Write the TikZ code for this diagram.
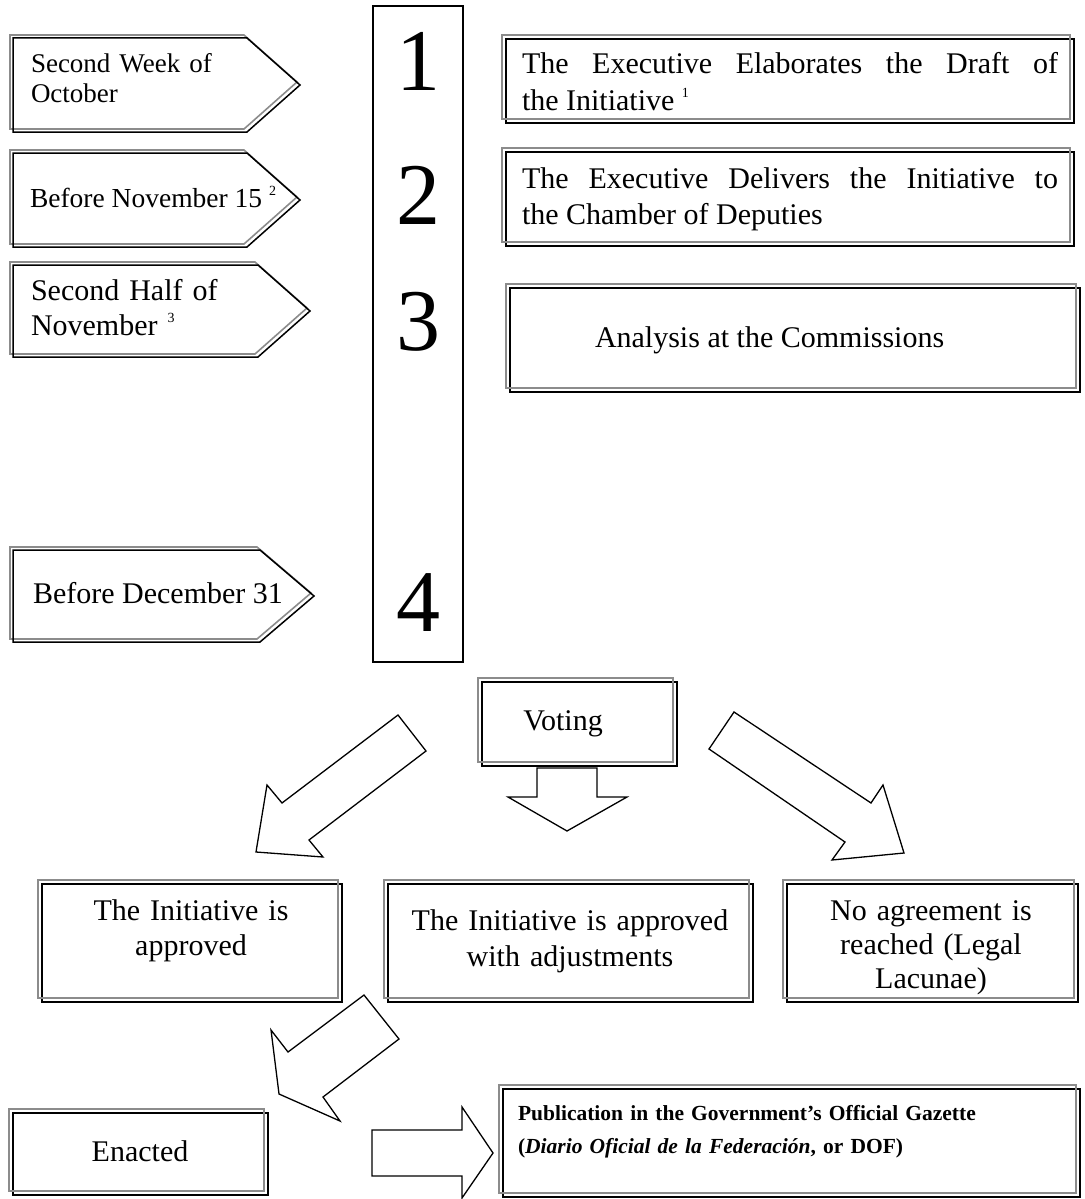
\documentclass[tikz,border=0pt]{standalone}
\usepackage{fontspec}
\setmainfont{Liberation Serif}
\usetikzlibrary{fit}

% text sizes (1pt of the picture = one unit)
\newcommand\bodysize{\fontsize{30}{36}\selectfont}
\newcommand\fnmark[1]{\raisebox{0.42em}{\fontsize{14}{14}\selectfont #1}}

\tikzset{
  box/.style={draw=black, line width=1.6pt, rectangle, inner sep=0pt, outer sep=0pt},
  ghost/.style={draw=black!45, line width=1.6pt},
  flagline/.style={draw=black, line width=1.5pt, line join=miter},
  blockarrow/.style={draw=black, line width=1.3pt, line join=miter},
  column/.style={draw=black, line width=1.3pt},
  txt/.style={inner sep=0pt, outer sep=0pt, font=\bodysize},
  num/.style={inner sep=0pt, anchor=base, font=\fontsize{88}{88}\selectfont},
}

% framed panel: black frame as a node, grey frame set off up and to the left
\newcommand\panel[5]{%
  \node[box, fit={(#2,#3) (#4,#5)}] (#1) {};
  \draw[ghost] ([shift={(-4,-4)}]#1.north west) rectangle ([shift={(-4,-4)}]#1.south east);
}

% date tag: #1 top, #2 bottom, #3 shoulder, #4 tip
\newcommand\datetag[4]{%
  \draw[ghost, xshift=-3pt, yshift=3pt] (13,#1) -- (#3,#1) -- (#4,{(#1+#2)/2}) -- (#3,#2) -- (13,#2) -- cycle;
  \draw[flagline] (13,#1) -- (#3,#1) -- (#4,{(#1+#2)/2}) -- (#3,#2) -- (13,#2) -- cycle;
}

\begin{document}
\begin{tikzpicture}[x=1pt, y=-1pt]
\useasboundingbox (0,0) rectangle (1084,1199);

% ---- date tags on the left ----
\datetag{38}{132}{247}{300}
\datetag{153}{247}{247}{300}
\datetag{265}{357}{258}{310}
\datetag{550}{642}{260}{314}

\node[txt, anchor=base west, text width=230pt, align=left, font=\fontsize{27}{31}\selectfont] (d1) at (31,72) {Second Week of\\October};
\node[txt, anchor=base west, font=\fontsize{27.5}{30}\selectfont] (d2) at (30,207) {Before November 15 \fnmark{2}};
\node[txt, anchor=base west, text width=230pt, align=left, font=\fontsize{30}{35}\selectfont] (d3) at (31,300) {Second Half of\\November \fnmark{3}};
\node[txt, anchor=base west] (d4) at (33,603) {Before December 31};

% ---- numbered column ----
\node[column, inner sep=0pt, fit={(373,6) (463,662)}] (col) {};
\node[num] (n1) at (418,90) {1};
\node[num] (n2) at (418,224) {2};
\node[num] (n3) at (418,350) {3};
\node[num] (n4) at (418,631) {4};

% ---- steps on the right ----
\panel{s1}{506}{39}{1074}{123}
\panel{s2}{506}{152}{1074}{246}
\panel{s3}{510}{288}{1080}{392}

\node[txt, anchor=base west, text width=536pt, align=justify] (t1) at (522,74)
  {The Executive Elaborates the Draft of\linebreak the Initiative \fnmark{1}};
\node[txt, anchor=base west, text width=536pt, align=justify] (t2) at (522,188)
  {The Executive Delivers the Initiative to\linebreak the Chamber of Deputies};
\node[txt, anchor=base west] (t3) at (595,347) {Analysis at the Commissions};

% ---- voting ----
\panel{vote}{482}{682}{677}{766}
\node[txt, anchor=base] (tv) at (563,730) {Voting};

% ---- outcomes ----
\panel{oa}{42}{884}{342}{1002}
\panel{ob}{388}{884}{753}{1002}
\panel{oc}{787}{884}{1078}{1002}

\node[txt, anchor=base, text width=290pt, align=center, font=\fontsize{30}{35}\selectfont] (ta) at (191,920) {The Initiative is\\approved};
\node[txt, anchor=base, text width=360pt, align=center, font=\fontsize{30}{36}\selectfont] (tb) at (570,930) {The Initiative is approved\\with adjustments};
\node[txt, anchor=base, text width=285pt, align=center, font=\fontsize{30}{34}\selectfont] (tc) at (931,920) {No agreement is\\reached (Legal\\Lacunae)};

% ---- enactment and publication ----
\panel{en}{13}{1113}{268}{1195}
\node[txt, anchor=base] (te) at (140,1161) {Enacted};

\panel{pub}{503}{1089}{1080}{1197}
\node[txt, anchor=base west, text width=560pt, align=left, font=\fontsize{21.5}{33}\selectfont\bfseries] (tp) at (518,1120)
  {Publication in the Government’s Official Gazette\\(\textit{Diario Oficial de la Federación}, or DOF)};

% ---- block arrows ----
% voting -> approved
\draw[blockarrow] (398,715) -- (426,751) -- (309,840) -- (323,857) -- (256,852) -- (267,785) -- (282,803) -- cycle;
% voting -> approved with adjustments
\draw[blockarrow] (537,768) -- (597,768) -- (597,797) -- (627,797) -- (567,831) -- (508,797) -- (537,797) -- cycle;
% voting -> no agreement
\draw[blockarrow] (734,712) -- (871,803) -- (883,785) -- (904,853) -- (832,860) -- (845,842) -- (709,749) -- cycle;
% approved -> enacted
\draw[blockarrow] (364,995) -- (399,1039) -- (323,1097) -- (340,1121) -- (279,1094) -- (271,1030) -- (288,1052) -- cycle;
% enacted -> publication
\draw[blockarrow] (372,1130) -- (462,1130) -- (462,1107) -- (493,1153) -- (462,1198) -- (462,1176) -- (372,1176) -- cycle;
\end{tikzpicture}
\end{document}
